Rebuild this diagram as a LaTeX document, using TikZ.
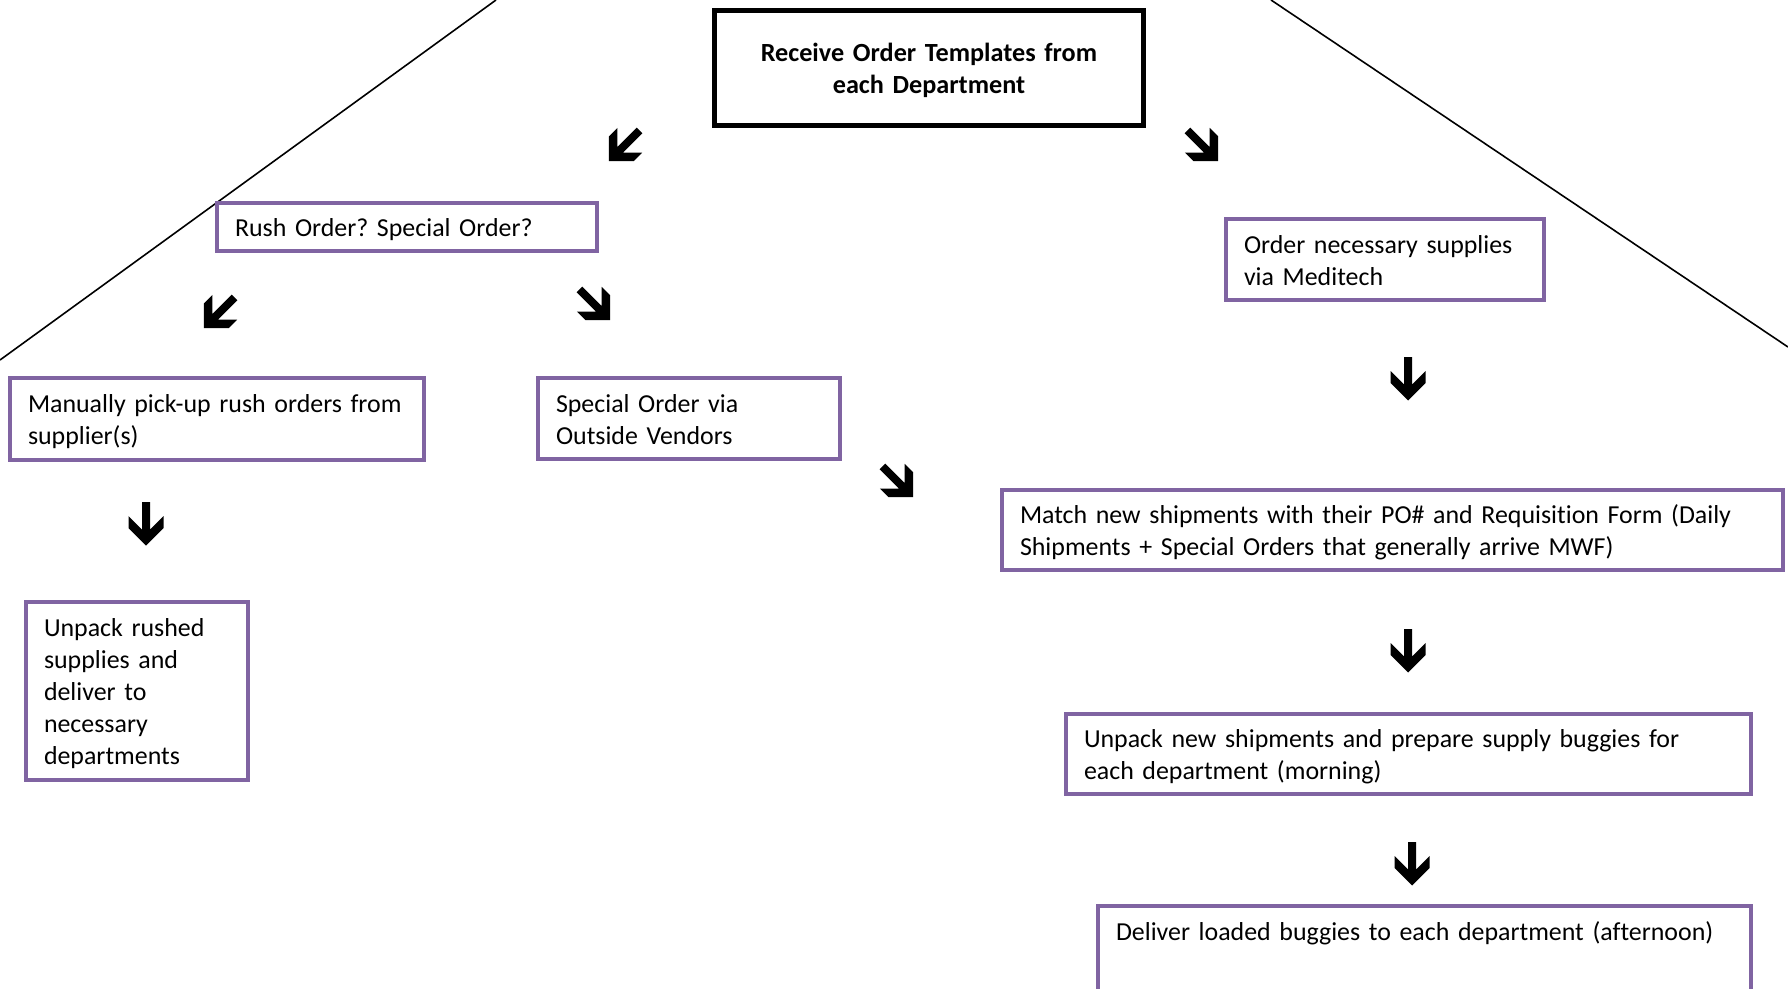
\documentclass[tikz,border=0pt]{standalone}
\usepackage{fontspec}
\setmainfont[Ligatures=NoCommon]{Carlito}
\definecolor{boxpurple}{HTML}{8064A2}
\begin{document}
\begin{tikzpicture}[x=1pt,y=-1pt,
  txt/.style={font=\fontsize{25.9}{32}\selectfont\frenchspacing,
    execute at begin node={\rule{0pt}{27pt}},
    execute at end node={\rule[-8pt]{0pt}{8pt}}},
  pbox/.style={txt, draw=boxpurple, line width=4pt, fill=white, rectangle,
    anchor=north west, align=left, inner xsep=18pt, inner ysep=0pt, outer sep=0pt},
  tbox/.style={txt, draw=black, line width=5pt, fill=white, rectangle,
    anchor=north west, align=center, inner xsep=10pt, inner ysep=0pt, outer sep=0pt,
    font=\fontsize{26.2}{32}\selectfont\frenchspacing\bfseries},
  guide/.style={draw=black, line width=1.6pt},
  blockarrow/.pic={
    \fill[black] (-4,-22) -- (4,-22) -- (4,5.5) -- (17.5,-8) -- (17.5,4)
      -- (0,21.5) -- (-17.5,4) -- (-17.5,-8) -- (-4,5.5) -- cycle;
  }
]
\useasboundingbox (0,0) rectangle (1788,988);
\begin{scope}
\clip (0,0) rectangle (1788,988);

% slanted guide lines behind the boxes
\coordinate (gl1) at (0,360);
\coordinate (gl2) at (496,0);
\coordinate (gr1) at (1271,0);
\coordinate (gr2) at (1788,347);
\draw[guide] (gl1) -- (gl2);
\draw[guide] (gr1) -- (gr2);

% title box
\node[tbox, text width=409pt, minimum height=115pt]
  (recv) at (714.5,10.5) {Receive Order Templates from\\each Department};

% left branch
\node[pbox, text width=344pt, minimum height=48pt] (rush) at (217,203)
  {\mbox{Rush Order? Special Order?}};
\node[pbox, text width=378pt, minimum height=82pt] (manual) at (10,378)
  {\mbox{Manually pick-up rush orders from}\\\mbox{supplier(s)}};
\node[pbox, text width=266pt, minimum height=81pt] (special) at (538,378)
  {\mbox{Special Order via}\\\mbox{Outside Vendors}};
\node[pbox, text width=186pt, minimum height=178pt] (unpackrush) at (26,602)
  {\mbox{Unpack rushed}\\\mbox{supplies and}\\\mbox{deliver to}\\\mbox{necessary}\\\mbox{departments}};

% right branch
\node[pbox, text width=282pt, minimum height=81pt] (order) at (1226,219)
  {\mbox{Order necessary supplies}\\\mbox{via Meditech}};
\node[pbox, text width=745pt, minimum height=80pt] (match) at (1002,490)
  {\mbox{Match new shipments with their PO\# and Requisition Form (Daily}\\\mbox{Shipments + Special Orders that generally arrive MWF)}};
\node[pbox, text width=649pt, minimum height=80pt] (unpacknew) at (1066,714)
  {\mbox{Unpack new shipments and prepare supply buggies for}\\\mbox{each department (morning)}};
\node[pbox, text width=617pt, minimum height=113pt] (deliver) at (1098,906)
  {\mbox{Deliver loaded buggies to each department (afternoon)}\\\mbox{}\\\mbox{}};

% block arrows
\pic[rotate=-45] at (624,146) {blockarrow};
\pic[rotate=45] at (1203,146) {blockarrow};
\pic[rotate=-45] at (219,313) {blockarrow};
\pic[rotate=45] at (595,305) {blockarrow};
\pic[rotate=45] at (898,482) {blockarrow};
\pic at (146,524) {blockarrow};
\pic at (1408,379) {blockarrow};
\pic at (1408,651) {blockarrow};
\pic at (1412,864) {blockarrow};
\end{scope}
\end{tikzpicture}
\end{document}
